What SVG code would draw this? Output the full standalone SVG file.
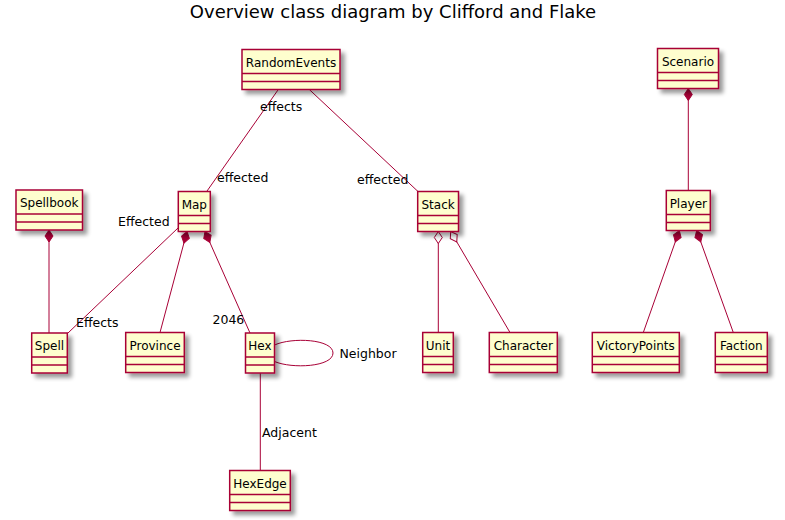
<svg xmlns="http://www.w3.org/2000/svg" width="785" height="520" viewBox="0 0 785 520">
<style>
.box{fill:#FEFECE;stroke:#A80036;stroke-width:1.5;filter:url(#sh)}
.sep{stroke:#A80036;stroke-width:1.5}
.nm{font-family:"DejaVu Sans",Verdana,sans-serif;font-size:12px;fill:#000;text-anchor:middle}
.lb{font-family:"DejaVu Sans",Verdana,sans-serif;font-size:12.5px;fill:#000}
.ln{fill:none;stroke:#A80036;stroke-width:1}
.comp{marker-start:url(#dia)}
.aggr{marker-start:url(#odia)}
</style>
<defs>
<filter id="sh" x="-30%" y="-30%" width="170%" height="170%">
<feGaussianBlur in="SourceAlpha" stdDeviation="2"/>
<feOffset dx="4" dy="4" result="o"/>
<feComponentTransfer><feFuncA type="linear" slope="0.4"/></feComponentTransfer>
<feMerge><feMergeNode/><feMergeNode in="SourceGraphic"/></feMerge>
</filter>
<marker id="dia" markerUnits="userSpaceOnUse" orient="auto" refX="0" refY="0" markerWidth="14" markerHeight="10" viewBox="-1 -5 14 10" overflow="visible">
<path d="M0,0 L6,-4 L12,0 L6,4 Z" fill="#A80036" stroke="#A80036" stroke-width="1"/>
</marker>
<marker id="odia" markerUnits="userSpaceOnUse" orient="auto" refX="0" refY="0" markerWidth="14" markerHeight="10" viewBox="-1 -5 14 10" overflow="visible">
<path d="M0,0 L6,-4 L12,0 L6,4 Z" fill="#FFFFFF" stroke="#A80036" stroke-width="1"/>
</marker>
</defs>
<rect width="785" height="520" fill="#FFFFFF"/>
<text x="393" y="18" font-family="'DejaVu Sans',Verdana,sans-serif" font-size="18" text-anchor="middle" fill="#000">Overview class diagram by Clifford and Flake</text>

<g id="connectors">
<path class="ln" d="M278.3,89.5 L206.7,191.5"/>
<path class="ln" d="M309.3,89.5 L418,191.5"/>
<path class="ln comp" d="M49,230 L49,333"/>
<path class="ln" d="M178,228 L68,333"/>
<path class="ln comp" d="M187,231.5 L160,332.5"/>
<path class="ln comp" d="M205,231.5 L250,333"/>
<path class="ln" d="M274.5,345 C292,337 333,339 333,353 C333,367 292,369 274.5,361.5"/>
<path class="ln" d="M260.3,373 L260.3,470.5"/>
<path class="ln comp" d="M688.3,88.5 L688.3,190.5"/>
<path class="ln aggr" d="M438.3,231.5 L438.3,332.5"/>
<path class="ln aggr" d="M450.7,231.5 L510,332.5"/>
<path class="ln comp" d="M679.3,230.5 L643.3,332.5"/>
<path class="ln comp" d="M696.7,230.5 L733.3,332.5"/>
<text class="lb" x="260" y="111">effects</text>
<text class="lb" x="217" y="182">effected</text>
<text class="lb" x="357" y="184">effected</text>
<text class="lb" x="118" y="226">Effected</text>
<text class="lb" x="76" y="327">Effects</text>
<text class="lb" x="212.5" y="324">2046</text>
<text class="lb" x="339.5" y="358">Neighbor</text>
<text class="lb" x="262" y="437">Adjacent</text>
</g>

<g id="RandomEvents"><rect class="box" x="242" y="49.5" width="98" height="40"/><line class="sep" x1="242" y1="73.5" x2="340" y2="73.5"/><line class="sep" x1="242" y1="81.5" x2="340" y2="81.5"/><text class="nm" x="291" y="66.5">RandomEvents</text></g>
<g id="Scenario"><rect class="box" x="657.5" y="48.5" width="61" height="40"/><line class="sep" x1="657.5" y1="72.5" x2="718.5" y2="72.5"/><line class="sep" x1="657.5" y1="80.5" x2="718.5" y2="80.5"/><text class="nm" x="688" y="65.5">Scenario</text></g>
<g id="Spellbook"><rect class="box" x="16" y="190" width="66.5" height="40"/><line class="sep" x1="16" y1="214" x2="82.5" y2="214"/><line class="sep" x1="16" y1="222" x2="82.5" y2="222"/><text class="nm" x="49.2" y="207">Spellbook</text></g>
<g id="Map"><rect class="box" x="178.3" y="191.5" width="32" height="40"/><line class="sep" x1="178.3" y1="215.5" x2="210.3" y2="215.5"/><line class="sep" x1="178.3" y1="223.5" x2="210.3" y2="223.5"/><text class="nm" x="194.3" y="208.5">Map</text></g>
<g id="Stack"><rect class="box" x="417.7" y="191.5" width="40.8" height="40"/><line class="sep" x1="417.7" y1="215.5" x2="458.5" y2="215.5"/><line class="sep" x1="417.7" y1="223.5" x2="458.5" y2="223.5"/><text class="nm" x="438.1" y="208.5">Stack</text></g>
<g id="Player"><rect class="box" x="666.3" y="190.5" width="44" height="40"/><line class="sep" x1="666.3" y1="214.5" x2="710.3" y2="214.5"/><line class="sep" x1="666.3" y1="222.5" x2="710.3" y2="222.5"/><text class="nm" x="688.3" y="207.5">Player</text></g>
<g id="Spell"><rect class="box" x="31.7" y="333" width="35.6" height="40"/><line class="sep" x1="31.7" y1="357" x2="67.3" y2="357"/><line class="sep" x1="31.7" y1="365" x2="67.3" y2="365"/><text class="nm" x="49.5" y="350">Spell</text></g>
<g id="Province"><rect class="box" x="125.7" y="332.5" width="58.6" height="40"/><line class="sep" x1="125.7" y1="356.5" x2="184.3" y2="356.5"/><line class="sep" x1="125.7" y1="364.5" x2="184.3" y2="364.5"/><text class="nm" x="155" y="349.5">Province</text></g>
<g id="Hex"><rect class="box" x="245.5" y="333" width="29" height="40"/><line class="sep" x1="245.5" y1="357" x2="274.5" y2="357"/><line class="sep" x1="245.5" y1="365" x2="274.5" y2="365"/><text class="nm" x="260" y="350">Hex</text></g>
<g id="Unit"><rect class="box" x="422.7" y="332.5" width="30.6" height="40"/><line class="sep" x1="422.7" y1="356.5" x2="453.3" y2="356.5"/><line class="sep" x1="422.7" y1="364.5" x2="453.3" y2="364.5"/><text class="nm" x="438" y="349.5">Unit</text></g>
<g id="Character"><rect class="box" x="489.3" y="332.5" width="68" height="40"/><line class="sep" x1="489.3" y1="356.5" x2="557.3" y2="356.5"/><line class="sep" x1="489.3" y1="364.5" x2="557.3" y2="364.5"/><text class="nm" x="523.3" y="349.5">Character</text></g>
<g id="VictoryPoints"><rect class="box" x="592.3" y="332.5" width="87" height="40"/><line class="sep" x1="592.3" y1="356.5" x2="679.3" y2="356.5"/><line class="sep" x1="592.3" y1="364.5" x2="679.3" y2="364.5"/><text class="nm" x="635.8" y="349.5">VictoryPoints</text></g>
<g id="Faction"><rect class="box" x="715.3" y="332.5" width="52" height="40"/><line class="sep" x1="715.3" y1="356.5" x2="767.3" y2="356.5"/><line class="sep" x1="715.3" y1="364.5" x2="767.3" y2="364.5"/><text class="nm" x="741.3" y="349.5">Faction</text></g>
<g id="HexEdge"><rect class="box" x="229.7" y="470.5" width="60.6" height="40"/><line class="sep" x1="229.7" y1="494.5" x2="290.3" y2="494.5"/><line class="sep" x1="229.7" y1="502.5" x2="290.3" y2="502.5"/><text class="nm" x="260" y="487.5">HexEdge</text></g>
</svg>
